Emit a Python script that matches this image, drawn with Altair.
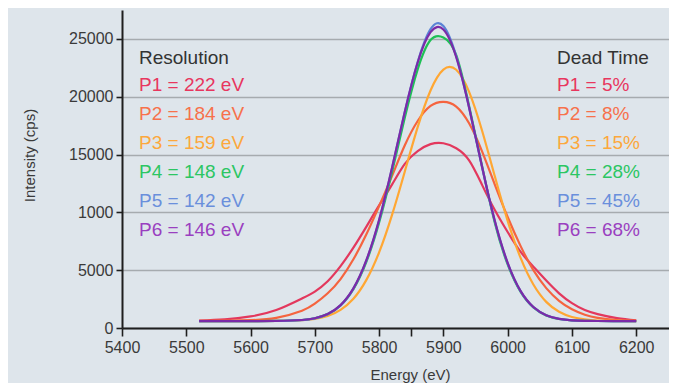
import altair as alt
import pandas as pd

# ---------------- data ----------------
energy = [5520, 5560, 5600, 5640, 5680, 5700, 5720, 5740, 5760, 5780,
          5800, 5820, 5840, 5860, 5880, 5900, 5920, 5940, 5960, 5980,
          6000, 6020, 6040, 6060, 6080, 6100, 6120, 6140, 6170, 6200]

p1 = [650, 750, 1000, 1550, 2550, 3150, 4050, 5350, 6950, 8750,
      10600, 12400, 14200, 15300, 15900, 15980, 15550, 14500, 12400, 10200,
      8300, 6600, 5300, 4100, 3000, 2150, 1550, 1200, 850, 660]
p2 = [610, 630, 680, 880, 1500, 2100, 3000, 4230, 5940, 8080,
      10540, 13140, 15800, 17900, 19200, 19550, 19150, 17700, 15300, 12400,
      9600, 7100, 5000, 3450, 2350, 1620, 1150, 880, 690, 630]
p3 = [600, 600, 600, 610, 670, 790, 1040, 1570, 2530, 4140,
      6540, 9760, 13540, 17370, 20540, 22350, 22330, 20420, 17100, 13120,
      9270, 6080, 3760, 2260, 1400, 950, 740, 650, 610, 600]
p4 = [600, 600, 600, 610, 690, 840, 1200, 1950, 3360, 5700,
      9120, 13480, 18200, 22360, 24900, 25130, 23600, 19200, 14050, 9100,
      5500, 3140, 1780, 1090, 780, 660, 615, 605, 600, 600]
p5 = [600, 600, 600, 605, 685, 835, 1200, 1960, 3410, 5800,
      9300, 13800, 18700, 23000, 25850, 26120, 23500, 19050, 13950, 9230,
      5600, 3190, 1800, 1100, 785, 660, 618, 604, 600, 600]
p6 = [600, 600, 600, 610, 690, 840, 1210, 1980, 3430, 5840,
      9360, 13840, 18700, 22960, 25580, 25810, 23410, 19070, 13990, 9270,
      5640, 3210, 1815, 1105, 787, 663, 620, 605, 600, 600]

series_names = ["P1", "P2", "P3", "P4", "P5", "P6"]
series_values = [p1, p2, p3, p4, p5, p6]
line_colors = ["#e3385d", "#f5643f", "#ffa733", "#1fc056", "#5a84d6", "#7b2ba8"]
text_colors = ["#e8365e", "#f7714b", "#fca83c", "#2cc663", "#6a8fdc", "#9a3fc0"]

resolution_labels = ["P1 = 222 eV", "P2 = 184 eV", "P3 = 159 eV",
                     "P4 = 148 eV", "P5 = 142 eV", "P6 = 146 eV"]
deadtime_labels = ["P1 = 5%", "P2 = 8%", "P3 = 15%",
                   "P4 = 28%", "P5 = 45%", "P6 = 68%"]

x_ticks = [5400, 5500, 5600, 5700, 5800, 5850, 5900, 6000, 6100, 6200]
y_ticks = [0, 5000, 10000, 15000, 20000, 25000]

# ---------------- build table ----------------
rows = []
for name, vals in zip(series_names, series_values):
    for e, v in zip(energy, vals):
        rows.append({"series": name, "energy": e, "intensity": v})
df = pd.DataFrame(rows)

FONT = "Liberation Sans"

x_enc = alt.X(
    "energy:Q",
    scale=alt.Scale(domain=[5400, 6251], nice=False, zero=False),
    axis=alt.Axis(
        values=x_ticks,
        labelExpr="datum.value == 5850 ? '' : datum.label",
        format="d",
        grid=False,
        tickSize=8,
        tickWidth=1.6,
        tickColor="#1e1e1e",
        domainColor="#1e1e1e",
        domainWidth=2,
        labelFont=FONT,
        labelFontSize=16,
        labelColor="#3a3a3a",
        labelPadding=3,
        labelFlush=False,
        labelOverlap=False,
        title="Energy (eV)",
        titleFont=FONT,
        titleFontSize=15,
        titleFontWeight="normal",
        titleColor="#3a3a3a",
        titleX=288,
        titleY=51,
        titleBaseline="alphabetic",
    ),
)
y_enc = alt.Y(
    "intensity:Q",
    scale=alt.Scale(domain=[0, 27500], nice=False),
    axis=alt.Axis(
        values=y_ticks,
        labelExpr="datum.value == 10000 ? '1000' : datum.label",
        format="d",
        grid=True,
        gridColor="#a6abaf",
        gridWidth=1.5,
        tickSize=6,
        tickWidth=1.6,
        tickColor="#1e1e1e",
        domainColor="#1e1e1e",
        domainWidth=2,
        labelFont=FONT,
        labelFontSize=16,
        labelColor="#3a3a3a",
        labelPadding=3,
        labelOverlap=False,
        title="Intensity (cps)",
        titleFont=FONT,
        titleFontSize=15,
        titleFontWeight="normal",
        titleColor="#3a3a3a",
        titleX=-85,
        titleY=145,
        titleAngle=270,
        titleBaseline="bottom",
        titleAlign="center",
    ),
)

layers = []
for i, (name, col) in enumerate(zip(series_names, line_colors)):
    layer = (
        alt.Chart(df)
        .transform_filter(alt.datum.series == name)
        .mark_line(interpolate="natural", strokeWidth=2.2)
        .encode(
            x=x_enc if i == 0 else alt.X("energy:Q"),
            y=y_enc if i == 0 else alt.Y("intensity:Q"),
            color=alt.value(col),
        )
    )
    layers.append(layer)


def text_layer(label, px, py, color):
    return (
        alt.Chart(pd.DataFrame({"t": [label]}))
        .mark_text(font=FONT, fontSize=19, align="left", baseline="alphabetic")
        .encode(text="t:N", x=alt.value(px), y=alt.value(py), color=alt.value(color))
    )


LEFT_X, RIGHT_X = 17, 435
layers.append(text_layer("Resolution", LEFT_X, 54, "#333333"))
layers.append(text_layer("Dead Time", RIGHT_X, 54, "#333333"))
for i in range(6):
    py = 81 + 29 * i
    layers.append(text_layer(resolution_labels[i], LEFT_X, py, text_colors[i]))
    layers.append(text_layer(deadtime_labels[i], RIGHT_X, py, text_colors[i]))

chart = (
    alt.layer(*layers)
    .properties(
        width=547,
        height=318,
        autosize=alt.AutoSizeParams(type="none"),
        padding={"left": 114, "top": 2, "right": 0, "bottom": 55},
        background="#dee5eb",
    )
    .configure_view(stroke=None)
)

chart.save("out.html", embed_options={"renderer": "svg", "actions": False})
